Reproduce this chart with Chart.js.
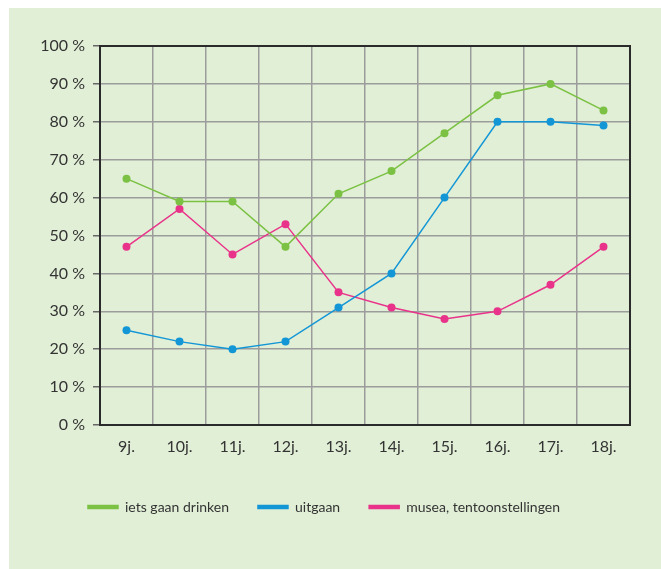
<!DOCTYPE html>
<html>
<head>
<meta charset="utf-8">
<script src="https://cdn.jsdelivr.net/npm/chart.js@4"></script>
<style>
  body { margin: 0; background: #fff; }
  #wrap { position: absolute; left: 9px; top: 8px; width: 652px; height: 561px; background: #e1efd6; }
</style>
</head>
<body>
<div id="wrap"><canvas id="myChart" width="652" height="561"></canvas></div>
<script>
const ages = ["9j.", "10j.", "11j.", "12j.", "13j.", "14j.", "15j.", "16j.", "17j.", "18j."];
const drinken = [65, 59, 59, 47, 61, 67, 77, 87, 90, 83];
const uitgaan = [25, 22, 20, 22, 31, 40, 60, 80, 80, 79];
const musea = [47, 57, 45, 53, 35, 31, 28, 30, 37, 47];

const green = "#7bc143";
const blue = "#1396d6";
const pink = "#e9338a";
const tickFont = { family: "Lato, 'Noto Sans', sans-serif", size: 16 };
const legendFont = { family: "Lato, 'Noto Sans', sans-serif", size: 14 };

// dark frame round the plot area
const frame = {
  id: "frame",
  afterDraw(chart) {
    const { ctx, chartArea: a } = chart;
    ctx.save();
    ctx.strokeStyle = "#2b2b2b";
    ctx.lineWidth = 2;
    ctx.strokeRect(a.left, a.top, a.right - a.left, a.bottom - a.top);
    ctx.restore();
  },
};

function series(label, data, color) {
  return {
    label: label,
    data: data,
    borderColor: color,
    backgroundColor: color,
    borderWidth: 1.5,
    pointRadius: 4,
    pointHoverRadius: 4,
    pointBackgroundColor: color,
    pointBorderWidth: 0,
    tension: 0,
  };
}

const ctx = document.getElementById("myChart");
new Chart(ctx, {
  type: "line",
  data: {
    labels: ages,
    datasets: [
      series("iets gaan drinken", drinken, green),
      series("uitgaan", uitgaan, blue),
      series("musea, tentoonstellingen", musea, pink),
    ],
  },
  options: {
    responsive: false,
    animation: false,
    layout: { padding: { left: 9, right: 31, top: 38, bottom: 45 } },
    plugins: {
      tooltip: { enabled: false },
      legend: {
        position: "bottom",
        labels: {
          boxWidth: 30,
          boxHeight: 3,
          padding: 29,
          color: "#333",
          font: legendFont,
        },
      },
    },
    scales: {
      x: {
        offset: true,
        afterFit(scale) { scale.height = 46; },
        grid: { offset: true, color: "#9c9c9c", lineWidth: 1.5, drawTicks: false },
        border: { color: "#2b2b2b", width: 2 },
        ticks: { color: "#333", font: tickFont, padding: 12 },
      },
      y: {
        min: 0,
        max: 100,
        afterFit(scale) { scale.width = 82; },
        grid: { color: "#9c9c9c", lineWidth: 1.5, tickLength: 7, tickColor: "#666" },
        border: { color: "#2b2b2b", width: 2 },
        ticks: {
          stepSize: 10,
          color: "#333",
          font: tickFont,
          padding: 8,
          callback: (v) => v + " %",
        },
      },
    },
  },
  plugins: [frame],
});
</script>
</body>
</html>
